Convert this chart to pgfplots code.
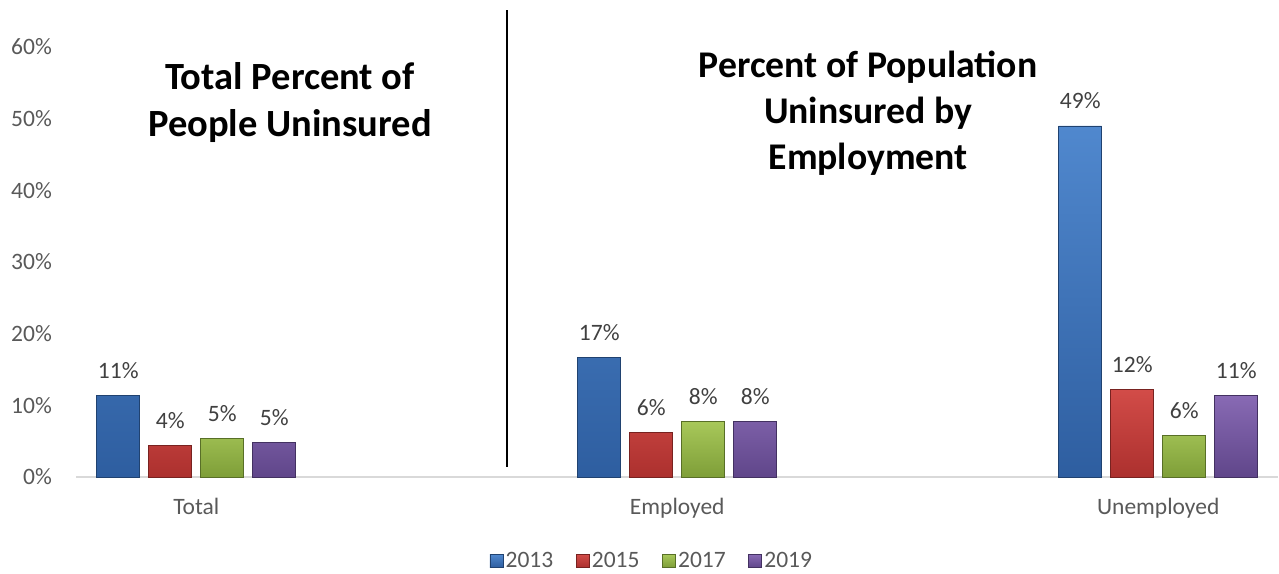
\documentclass[border=0pt]{standalone}
\usepackage{pgfplots}
\usepackage{pgfplotstable}
\pgfplotsset{compat=1.18}
\usepackage{fontspec}
\setmainfont{Carlito}
\definecolor{b1}{RGB}{80,136,206}\definecolor{b2}{RGB}{46,94,160}
\definecolor{r1}{RGB}{210,76,72}\definecolor{r2}{RGB}{172,48,46}
\definecolor{g1}{RGB}{168,200,90}\definecolor{g2}{RGB}{126,158,56}
\definecolor{p1}{RGB}{136,106,180}\definecolor{p2}{RGB}{96,70,138}
\definecolor{tickgray}{RGB}{89,89,89}
\definecolor{lblgray}{RGB}{64,64,64}
\pgfplotstableread{
x y13 y15 y17 y19
0 11.4 4.46 5.4 4.84
1 16.7 6.2 7.8 7.8
2 49.0 12.2 5.8 11.4
}\data
\begin{document}
\begin{tikzpicture}
\begin{axis}[
  at={(76pt,96pt)}, anchor=south west,
  scale only axis, width=1202.5pt, height=430pt,
  xmin=-0.25, xmax=2.25, ymin=0, ymax=60,
  clip=false,
  ybar, bar width=43pt, ybar=9pt,
  axis lines*=left,
  y axis line style={draw=none},
  x axis line style={draw=black!15, line width=2.5pt},
  major tick length=0pt,
  xtick={0,1,2}, xticklabels={Total,Employed,Unemployed},
  ytick={0,10,...,60},
  yticklabel={\pgfmathprintnumber{\tick}\%},
  /pgf/number format/assume math mode=true,
  tick label style={font=\fontsize{23.5}{28}\selectfont, text=tickgray},
  yticklabel style={inner sep=0pt, xshift=-24pt},
  xticklabel style={inner sep=0pt, anchor=base, yshift=-37.5pt},
  nodes near coords={\pgfmathprintnumber[fixed,precision=0]{\pgfplotspointmeta}\%},
  nodes near coords style={font=\fontsize{23.5}{28}\selectfont, text=lblgray, anchor=base, inner sep=0pt, yshift=17pt},
  legend style={at={(0.479,-0.195)}, anchor=center, draw=none, fill=none,
    legend columns=-1, font=\fontsize{23.5}{28}\selectfont, text=tickgray,
    /tikz/every even column/.append style={column sep=20pt},
    nodes={inner sep=2.5pt}},
  legend image code/.code={\fill[#1] (0pt,-6.5pt) rectangle (13pt,6.5pt);},
]
\addplot[top color=b1, bottom color=b2, draw=b2!70!black, line width=0.6pt] table[x=x,y=y13]{\data};
\addplot[top color=r1, bottom color=r2, draw=r2!70!black, line width=0.6pt] table[x=x,y=y15]{\data};
\addplot[top color=g1, bottom color=g2, draw=g2!70!black, line width=0.6pt] table[x=x,y=y17]{\data};
\addplot[top color=p1, bottom color=p2, draw=p2!70!black, line width=0.6pt] table[x=x,y=y19]{\data};
\legend{2013,2015,2017,2019}
\draw[black, line width=2pt] (axis cs:0.6466,1.4) -- (axis cs:0.6466,65.1);
\node[align=center, font=\fontsize{38.5}{47}\selectfont\bfseries] at (axis cs:0.195,52.3) {Total Percent of\\People Uninsured};
\node[align=center, font=\fontsize{37.7}{46}\selectfont\bfseries] at (axis cs:1.397,50.8) {Percent of Population\\Uninsured by\\Employment};
\end{axis}
\pgfresetboundingbox
\path[use as bounding box] (0,0) rectangle (1279pt,573pt);
\end{tikzpicture}
\end{document}
